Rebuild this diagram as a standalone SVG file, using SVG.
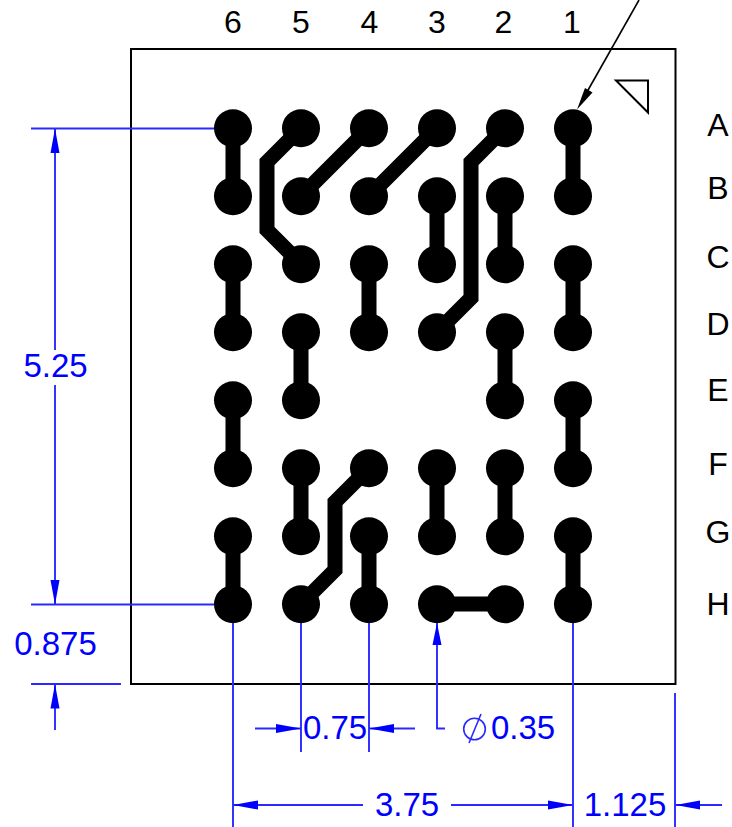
<svg xmlns="http://www.w3.org/2000/svg" width="732" height="827" viewBox="0 0 732 827">
<style>
text{font-family:"Liberation Sans",Arial,sans-serif;font-size:32px;text-anchor:middle}
.lb{fill:#000}
.dim{fill:#0000ff;font-size:33px}
.trace{fill:none;stroke:#000;stroke-width:15;stroke-linejoin:miter}
.pad{fill:#000}
.bl{fill:none;stroke:#2a2aff;stroke-width:1.9}
.ah{fill:#0000ff}
</style>
<rect width="732" height="827" fill="#fff"/>
<g id="outline">
<rect x="131" y="49" width="544.5" height="635" fill="none" stroke="#000" stroke-width="2"/>
<path d="M616 80.5H648V112.5Z" fill="none" stroke="#000" stroke-width="2"/>
</g>
<g id="connectors">
<path class="trace" d="M233 128V196M573 128V196M233 264V332M573 264V332M233 400V468M573 400V468M233 536V604M573 536V604M437 196V264M505 196V264M369 264V332M301 332V400M505 332V400M301 468V536M437 468V536M505 468V536M369 536V604M437 604H505"/>
<path class="trace" d="M301 128L267 162V230L301 264M369 128L301 196M437 128L369 196M505 128L471 162V298L437 332M369 468L335 502V570L301 604"/>
</g>
<g id="pads" class="pad">
<g id="pad-A6"><circle cx="233" cy="128.3" r="19"/></g><g id="pad-A5"><circle cx="301" cy="128.3" r="19"/></g><g id="pad-A4"><circle cx="369" cy="128.3" r="19"/></g><g id="pad-A3"><circle cx="437" cy="128.3" r="19"/></g><g id="pad-A2"><circle cx="505" cy="128.3" r="19"/></g><g id="pad-A1"><circle cx="573" cy="128.3" r="19"/></g>
<g id="pad-B6"><circle cx="233" cy="196.3" r="19"/></g><g id="pad-B5"><circle cx="301" cy="196.3" r="19"/></g><g id="pad-B4"><circle cx="369" cy="196.3" r="19"/></g><g id="pad-B3"><circle cx="437" cy="196.3" r="19"/></g><g id="pad-B2"><circle cx="505" cy="196.3" r="19"/></g><g id="pad-B1"><circle cx="573" cy="196.3" r="19"/></g>
<g id="pad-C6"><circle cx="233" cy="264.3" r="19"/></g><g id="pad-C5"><circle cx="301" cy="264.3" r="19"/></g><g id="pad-C4"><circle cx="369" cy="264.3" r="19"/></g><g id="pad-C3"><circle cx="437" cy="264.3" r="19"/></g><g id="pad-C2"><circle cx="505" cy="264.3" r="19"/></g><g id="pad-C1"><circle cx="573" cy="264.3" r="19"/></g>
<g id="pad-D6"><circle cx="233" cy="332.3" r="19"/></g><g id="pad-D5"><circle cx="301" cy="332.3" r="19"/></g><g id="pad-D4"><circle cx="369" cy="332.3" r="19"/></g><g id="pad-D3"><circle cx="437" cy="332.3" r="19"/></g><g id="pad-D2"><circle cx="505" cy="332.3" r="19"/></g><g id="pad-D1"><circle cx="573" cy="332.3" r="19"/></g>
<g id="pad-E6"><circle cx="233" cy="400.3" r="19"/></g><g id="pad-E5"><circle cx="301" cy="400.3" r="19"/></g><g id="pad-E2"><circle cx="505" cy="400.3" r="19"/></g><g id="pad-E1"><circle cx="573" cy="400.3" r="19"/></g>
<g id="pad-F6"><circle cx="233" cy="468.3" r="19"/></g><g id="pad-F5"><circle cx="301" cy="468.3" r="19"/></g><g id="pad-F4"><circle cx="369" cy="468.3" r="19"/></g><g id="pad-F3"><circle cx="437" cy="468.3" r="19"/></g><g id="pad-F2"><circle cx="505" cy="468.3" r="19"/></g><g id="pad-F1"><circle cx="573" cy="468.3" r="19"/></g>
<g id="pad-G6"><circle cx="233" cy="536.3" r="19"/></g><g id="pad-G5"><circle cx="301" cy="536.3" r="19"/></g><g id="pad-G4"><circle cx="369" cy="536.3" r="19"/></g><g id="pad-G3"><circle cx="437" cy="536.3" r="19"/></g><g id="pad-G2"><circle cx="505" cy="536.3" r="19"/></g><g id="pad-G1"><circle cx="573" cy="536.3" r="19"/></g>
<g id="pad-H6"><circle cx="233" cy="604.3" r="19"/></g><g id="pad-H5"><circle cx="301" cy="604.3" r="19"/></g><g id="pad-H4"><circle cx="369" cy="604.3" r="19"/></g><g id="pad-H3"><circle cx="437" cy="604.3" r="19"/></g><g id="pad-H2"><circle cx="505" cy="604.3" r="19"/></g><g id="pad-H1"><circle cx="573" cy="604.3" r="19"/></g>
</g>
<g id="pointer">
<path d="M639 0L583 99" fill="none" stroke="#000" stroke-width="1.6"/>
<path d="M577 109.5L585 88L592.5 92.500Z" fill="#000"/>
</g>
<g id="dimensions">
<path class="bl" d="M31 128.500H214M31 604.500H214M31 684H121M55 128.500V350M55 385V604M55 684V730M233 623V827M301 623V752M369 623V752M437 623V728.500H445M573 623V827M675 693V827M255 728.500H301M369 728.500H415M233 805H363M451 805H573M675 805H722"/>
<path class="ah" d="M55 128.500L59.500 153H50.500ZM55 604.500L59.500 580H50.500ZM55 684L59.500 708.500H50.500ZM301 728.500L276 724V733ZM369 728.500L394 724V733ZM233 805L258 800.500V809.500ZM573 805L548 800.500V809.500ZM675.500 805L700 800.500V809.500ZM437 623L441.500 645H432.500Z"/>
<circle cx="474.500" cy="729" r="10.800" fill="none" stroke="#2a2aff" stroke-width="1.600"/>
<path d="M481 714L469 743" fill="none" stroke="#2a2aff" stroke-width="1.600"/>
</g>
<g id="labels">
<text class="lb" x="233" y="33">6</text><text class="lb" x="301" y="33">5</text><text class="lb" x="369.500" y="33">4</text><text class="lb" x="437" y="33">3</text><text class="lb" x="503.500" y="33">2</text><text class="lb" x="572" y="33">1</text>
<text class="lb" x="718" y="136">A</text><text class="lb" x="718" y="199">B</text><text class="lb" x="718" y="268">C</text><text class="lb" x="718" y="335">D</text><text class="lb" x="718" y="401">E</text><text class="lb" x="718" y="475">F</text><text class="lb" x="718" y="543">G</text><text class="lb" x="718" y="615">H</text>
<text class="dim" x="55.500" y="655">0.875</text>
<text class="dim" x="55.500" y="377">5.25</text>
<text class="dim" x="335" y="739">0.75</text>
<text class="dim" x="523" y="739">0.35</text>
<text class="dim" x="407" y="816">3.75</text>
<text class="dim" x="625" y="816">1.125</text>
</g>
</svg>
